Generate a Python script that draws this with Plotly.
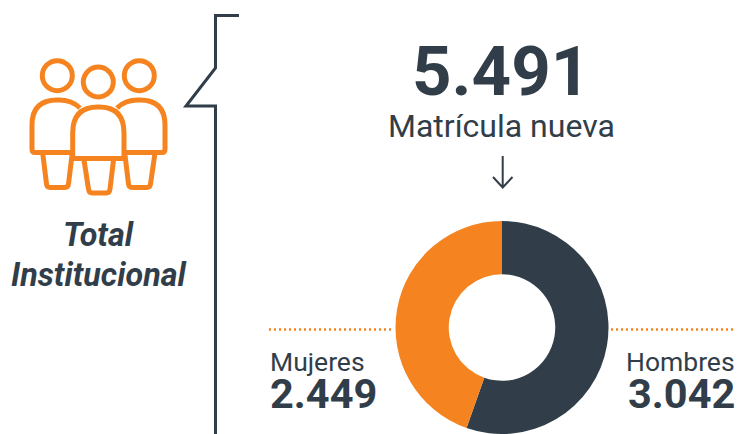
import plotly.graph_objects as go

categories = ["Hombres", "Mujeres"]
values = [3042, 2449]
total_label = "5.491"
value_labels = ["3.042", "2.449"]
colors = ["#313E49", "#F58420"]
DARK, ORANGE = colors

W, H = 739, 434
fig = go.Figure()
fig.add_trace(go.Pie(
    labels=categories, values=values, hole=0.5, sort=False, direction="clockwise", rotation=0,
    marker=dict(colors=colors, line=dict(width=0)), textinfo="none", hoverinfo="label+value",
    showlegend=False, domain=dict(x=[395.5/W, 608.5/W], y=[0, 213/H]),
))

def path(d, color, width, dash=None, fill=None):
    fig.add_shape(type="path", path=d, xref="x", yref="y", layer="above",
                  line=dict(color=color, width=width, dash=dash),
                  fillcolor=fill or "rgba(0,0,0,0)")

def circle(cx, cy, r, color, width):
    fig.add_shape(type="circle", xref="x", yref="y", x0=cx-r, x1=cx+r, y0=cy-r, y1=cy+r,
                  line=dict(color=color, width=width))

def text(x, y, s, size, color=DARK, anchor="center", bold=False, italic=False):
    fig.add_annotation(x=x, y=y, xref="x", yref="y", text=s, showarrow=False, xanchor=anchor,
                       yanchor="middle", borderpad=0,
                       font=dict(family="Roboto", size=size, color=color,
                                 weight=700 if bold else 400,
                                 style="italic" if italic else "normal"))

# bracket
path("M239,15.5 H215.5 V68 L186,106 H215.5 V434", DARK, 3)
# dotted leader lines
path("M269,329.5 H394", ORANGE, 2.5, dash="2px,3px")
path("M611,329.5 H735", ORANGE, 2.5, dash="2px,3px")
# arrow
path("M502.7,156 V187 M493,177 L502.7,187.5 L512.5,177", DARK, 2)

# people icon
for cx, cy in [(57.3, 75.7), (98.3, 82), (139.3, 75.7)]:
    circle(cx, cy, 15, ORANGE, 5)
path("M72,152.5 H35 Q32,152.5 32,149 V125 Q32,100 57,100 H59 Q72,100 80,108", ORANGE, 5)
path("M125,152.5 H162 Q165,152.5 165,149 V125 Q165,100 140,100 H138 Q125,100 117,108", ORANGE, 5)
path("M72.7,158.5 V133 Q72.7,107 98,107 H99 Q124,107 124,133 V158.5 Z", ORANGE, 5)
path("M42.7,153 L46.5,184 Q47,187.5 50,187.5 H65 Q68,187.5 68.5,184 L72,155", ORANGE, 5)
path("M84,160 L88.5,189 Q89,193 92,193 H106.5 Q109.5,193 110,189 L113.5,160", ORANGE, 5)
path("M125,155 L128.5,184 Q129,187.5 132,187.5 H147 Q150,187.5 150.5,184 L155,153", ORANGE, 5)

# text
text(501, 71, total_label, 69, bold=True)
text(501.5, 126, "Matrícula nueva", 32)
text(98.5, 235, "Total", 32.3, bold=True, italic=True)
text(98.5, 275, "Institucional", 32.3, bold=True, italic=True)
text(268.5, 361, categories[1], 26.5, anchor="left")
text(269, 393, value_labels[1], 41.5, anchor="left", bold=True)
text(735.5, 361, categories[0], 26.5, anchor="right")
text(735.5, 393, value_labels[0], 41.5, anchor="right", bold=True)

fig.update_layout(
    width=W, height=H, margin=dict(l=0, r=0, t=0, b=0),
    paper_bgcolor="white", plot_bgcolor="rgba(0,0,0,0)",
    xaxis=dict(range=[0, W], visible=False, fixedrange=True),
    yaxis=dict(range=[H, 0], visible=False, fixedrange=True),
)
fig.write_html("out.html", config={"displayModeBar": False},
               post_script="document.body.style.margin='0';document.body.style.overflow='hidden';")
